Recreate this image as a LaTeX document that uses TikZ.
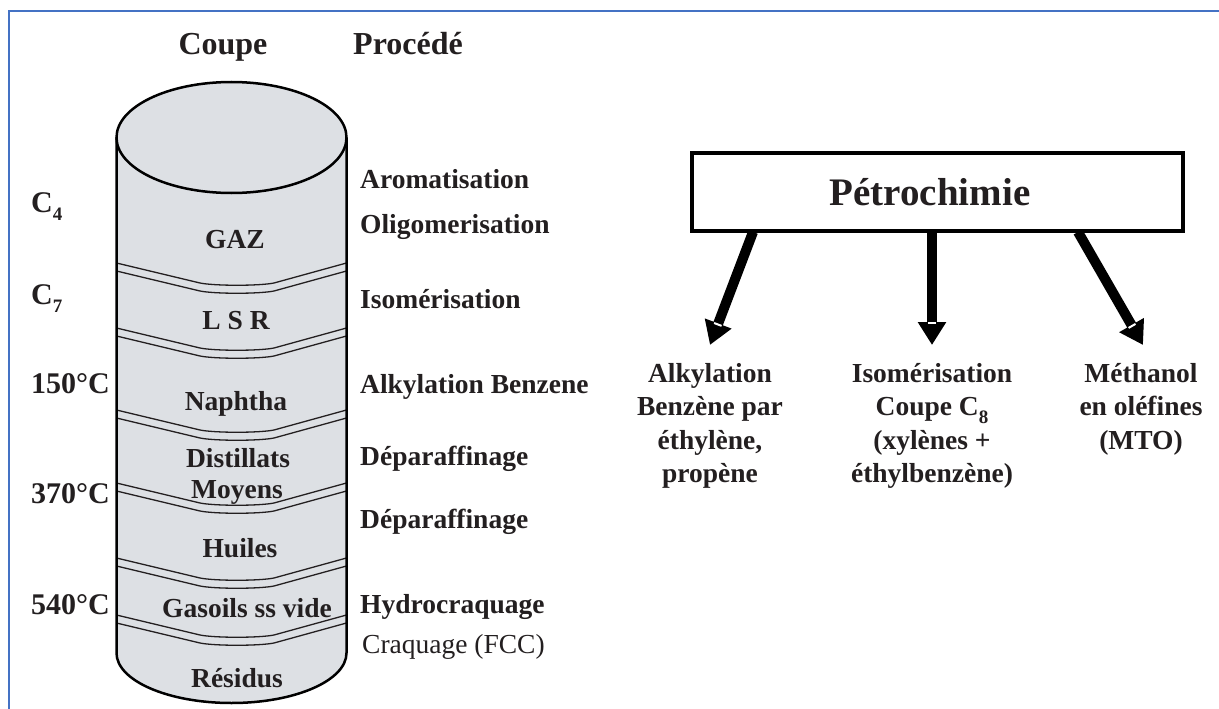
\documentclass[tikz,border=0pt]{standalone}
\usepackage{fontspec}
\setmainfont{Liberation Serif}
\usetikzlibrary{arrows.meta,calc}
\definecolor{frameblue}{RGB}{68,114,196}
\definecolor{cylgray}{RGB}{221,224,228}
\definecolor{ink}{RGB}{35,31,32}
\newcommand\lowsub[1]{\raisebox{-0.28em}{\fontsize{19}{19}\selectfont #1}}
\begin{document}
\begin{tikzpicture}[x=1pt,y=-1pt,
  hdr/.style={font=\fontsize{32}{36}\selectfont\bfseries, text=ink, inner sep=0pt, anchor=base},
  side/.style={font=\fontsize{30}{34}\selectfont\bfseries, text=ink, inner sep=0pt, anchor=base west},
  proc/.style={font=\fontsize{27.5}{32}\selectfont\bfseries, text=ink, inner sep=0pt, anchor=base west},
  cut/.style={font=\fontsize{27.5}{32}\selectfont\bfseries, text=ink, inner sep=0pt, anchor=base},
  outlbl/.style={font=\fontsize{27.5}{33.5}\selectfont\bfseries, text=ink, inner sep=0pt, anchor=base, align=center},
  bandline/.style={draw=ink, line width=1.3pt},
  bigarrow/.style={draw=black, line width=10pt, -{Triangle[length=23pt,width=27pt]}},
  gapmark/.style={draw=white, line width=2pt},
  petrobox/.style={draw=black, line width=3.5pt, fill=white, minimum width=491pt, minimum height=78pt,
    inner sep=0pt, text height=26pt, text depth=0pt, font=\fontsize{39}{44}\selectfont\bfseries, text=ink}
]
\useasboundingbox (0,0) rectangle (1219,709);
\fill[white] (0,0) rectangle (1219,709);
% frame
\draw[frameblue, line width=2pt] (9,709) -- (9,11) -- (1219,11);

% cylinder body
\fill[cylgray] (116.5,137.5) -- (116.5,653)
  .. controls (116.5,680.6) and (168,703) .. (231.5,703)
  .. controls (295,703) and (346.5,680.6) .. (346.5,653) -- (346.5,137.5) -- cycle;
% bands
\foreach \y in {263,328,410,483,558,615}{
  \foreach \d in {0,8}{
    \draw[bandline] (116.5,\y+\d) -- (200,\y+\d+20)
      .. controls (215,\y+\d+23) and (259,\y+\d+23) .. (274,\y+\d+20) -- (346.5,\y+\d);
  }
}
\draw[black, line width=2.5pt, line join=round] (116.5,137.5) -- (116.5,653)
  .. controls (116.5,680.6) and (168,703) .. (231.5,703)
  .. controls (295,703) and (346.5,680.6) .. (346.5,653) -- (346.5,137.5);
\filldraw[fill=cylgray, draw=black, line width=2.5pt] (231.5,137.5) ellipse [x radius=115pt, y radius=55.5pt];

% headers
\node[hdr] (coupe) at (223,55) {Coupe};
\node[hdr] (procede) at (408,55) {Procédé};

% left labels
\node[side] (c4) at (31,212) {C\lowsub{4}};
\node[side] (c7) at (31,304) {C\lowsub{7}};
\node[side] (t150) at (31,393) {150°C};
\node[side] (t370) at (31,503) {370°C};
\node[side] (t540) at (31,614) {540°C};

% cuts inside cylinder
\node[cut] (gaz) at (235,248) {GAZ};
\node[cut] (lsr) at (236,329) {L S R};
\node[cut] (naph) at (236,410) {Naphtha};
\node[cut] (dist) at (238,467) {Distillats};
\node[cut] (moy) at (237,498) {Moyens};
\node[cut] (huil) at (240,557) {Huiles};
\node[cut] (gaso) at (247,617) {Gasoils ss vide};
\node[cut] (resid) at (237,687) {Résidus};

% processes
\node[proc] (p1) at (360,188) {Aromatisation};
\node[proc] (p2) at (360,233) {Oligomerisation};
\node[proc] (p3) at (360,308) {Isomérisation};
\node[proc] (p4) at (360,393) {Alkylation Benzene};
\node[proc] (p5) at (360,465) {Déparaffinage};
\node[proc] (p6) at (360,528) {Déparaffinage};
\node[proc] (p7) at (360,613) {Hydrocraquage};
\node[proc, font=\fontsize{27.5}{32}\selectfont] (p8) at (362,653) {Craquage (FCC)};

% petrochimie
\node[petrobox] (petro) at (937.5,192) {\hspace*{-15pt}Pétrochimie};

\coordinate (s1) at (753,232);
\coordinate (s2) at (932,232);
\coordinate (s3) at (1078,232);
\coordinate (e1) at (710,345);
\coordinate (e2) at (932,345);
\coordinate (e3) at (1143,345);

\draw[bigarrow] (s1) -- (e1);
\draw[bigarrow] (s2) -- (e2);
\draw[bigarrow] (s3) -- (e3);
\foreach \s/\e in {s1/e1,s2/e2,s3/e3}{
  \coordinate (m) at ($(\e)!22pt!(\s)$);
  \draw[gapmark] ($(m)!4pt!90:(\e)$) -- ($(m)!4pt!-90:(\e)$);
}

% bottom labels (anchor = baseline of last line)
\node[outlbl] (o1) at (710,482.5) {Alkylation\\Benzène par\\éthylène,\\propène};
\node[outlbl] (o2) at (932,482.5) {Isomérisation\\Coupe C\lowsub{8}\\(xylènes +\\éthylbenzène)};
\node[outlbl] (o3) at (1141,449) {Méthanol\\en oléfines\\(MTO)};
\end{tikzpicture}
\end{document}
